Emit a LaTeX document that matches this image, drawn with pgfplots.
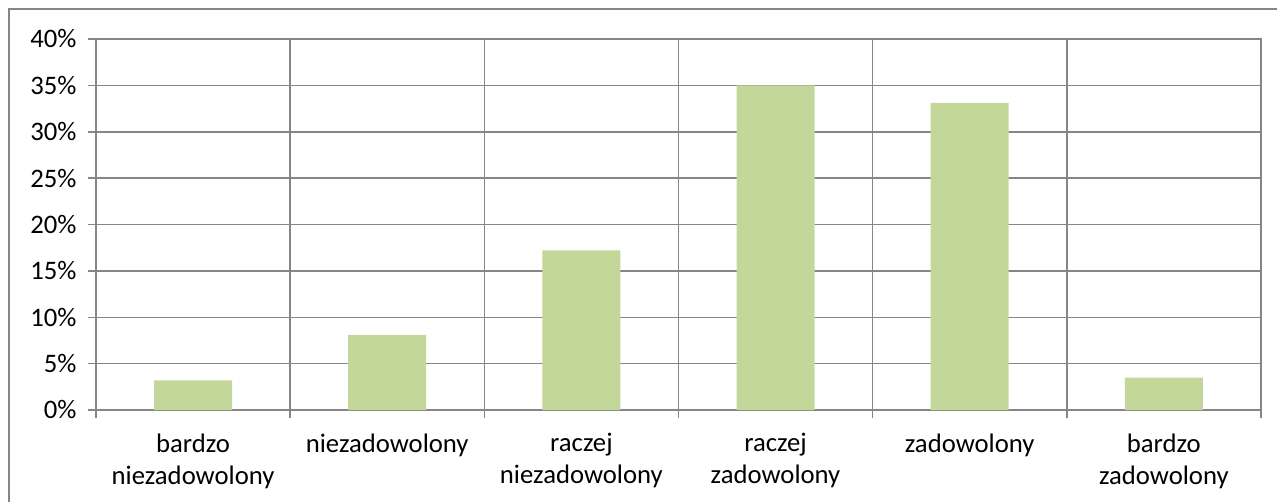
\documentclass[border=0pt]{standalone}
\usepackage{fontspec}
\setmainfont{Carlito}
\usepackage{pgfplots}
\pgfplotsset{compat=1.18}
\definecolor{gridgray}{RGB}{134,134,134}
\definecolor{barfill}{RGB}{196,215,155}
\begin{document}
\begin{tikzpicture}[x=1pt,y=1pt]
\path[use as bounding box] (0,0) rectangle (1277,501);
\draw[gridgray,line width=1.5pt] (9,-20) -- (9,492) -- (1300,492);
\begin{axis}[
  at={(96pt,91pt)}, anchor=south west,
  scale only axis, width=1165pt, height=371pt,
  xmin=0, xmax=6, ymin=0, ymax=40,
  axis line style={gridgray,line width=1.5pt},
  xtick={0,1,2,3,4,5,6}, xticklabels={},
  extra x ticks={0.5,1.5,2.5,3.5,4.5,5.5},
  extra x tick labels={{bardzo\\niezadowolony},{niezadowolony},{raczej\\niezadowolony},{raczej\\zadowolony},{zadowolony},{bardzo\\zadowolony}},
  extra x tick style={major tick length=0pt, grid=none},
  ytick={0,5,10,15,20,25,30,35,40},
  yticklabel={\pgfmathprintnumber{\tick}\%},
  /pgf/number format/assume math mode=true,
  grid=major, major grid style={gridgray,line width=1.5pt},
  tick style={gridgray,line width=1.5pt}, major tick length=8pt, tick align=outside,
  xtick pos=bottom, ytick pos=left,
  ticklabel style={font=\fontsize{26.7}{32}\selectfont, text=black},
  xticklabel style={align=center, yshift=-20pt},
  yticklabel style={xshift=-8pt},
]
\addplot[ybar, bar width=78pt, fill=barfill, draw=none] coordinates {(0.5,3.2) (1.5,8.1) (2.5,17.2) (3.5,35.0) (4.5,33.1) (5.5,3.5)};
\end{axis}
\end{tikzpicture}
\end{document}
